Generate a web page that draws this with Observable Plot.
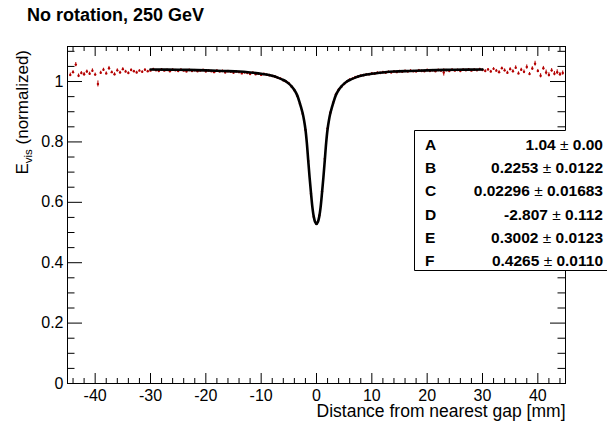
<!DOCTYPE html>
<html><head><meta charset="utf-8">
<script src="https://cdn.jsdelivr.net/npm/d3@7"></script>
<script src="https://cdn.jsdelivr.net/npm/@observablehq/plot@0.6"></script>
<style>
html,body{margin:0;padding:0;background:#fff;}
#chart{width:607px;height:425px;}
</style></head><body><div id="chart"></div>
<script>
const titleText = "No rotation, 250 GeV";
const xAxisTitle = "Distance from nearest gap [mm]";
const xMajorTicks = [-40,-30,-20,-10,0,10,20,30,40];
const xMinorTicks = [-44,-42,-38,-36,-34,-32,-28,-26,-24,-22,-18,-16,-14,-12,-8,-6,-4,-2,2,4,6,8,12,14,16,18,22,24,26,28,32,34,36,38,42,44];
const yMajorTicks = [0,0.2,0.4,0.6,0.8,1];
const yTickLabels = ["0","0.2","0.4","0.6","0.8","1"];
const yMinorTicks = [0.05,0.1,0.15,0.25,0.3,0.35,0.45,0.5,0.55,0.65,0.7,0.75,0.85,0.9,0.95,1.05,1.1];

const distMm = [
 -44.5,-44,-43.5,-43,-42.5,-42,-41.5,-41,-40.5,-40,
 -39.5,-39,-38.5,-38,-37.5,-37,-36.5,-36,-35.5,-35,
 -34.5,-34,-33.5,-33,-32.5,-32,-31.5,-31,-30.5,-30,
 -29.5,-29,-28.5,-28,-27.5,-27,-26.5,-26,-25.5,-25,
 -24.5,-24,-23.5,-23,-22.5,-22,-21.5,-21,-20.5,-20,
 -19.5,-19,-18.5,-18,-17.5,-17,-16.5,-16,-15.5,-15,
 -14.5,-14,-13.5,-13,-12.5,-12,-11.5,-11,-10.5,-10,
 -9.5,-9,-8.5,-8,-7.5,-7,-6.5,-6,-5.5,-5,
 -4.5,-4,-3.5,-3,-2.5,-2,-1.5,-1,-0.5,0,
 0.5,1,1.5,2,2.5,3,3.5,4,4.5,5,
 5.5,6,6.5,7,7.5,8,8.5,9,9.5,10,
 10.5,11,11.5,12,12.5,13,13.5,14,14.5,15,
 15.5,16,16.5,17,17.5,18,18.5,19,19.5,20,
 20.5,21,21.5,22,22.5,23,23.5,24,24.5,25,
 25.5,26,26.5,27,27.5,28,28.5,29,29.5,30,
 30.5,31,31.5,32,32.5,33,33.5,34,34.5,35,
 35.5,36,36.5,37,37.5,38,38.5,39,39.5,40,
 40.5,41,41.5,42,42.5,43,43.5,44,44.5
];
const evisValues = [
 1.022,1.031,1.056,1.019,1.028,1.024,1.033,1.026,1.036,1.023,
 0.992,1.029,1.039,1.027,1.044,1.031,1.024,1.037,1.030,1.041,
 1.033,1.028,1.038,1.034,1.030,1.036,1.032,1.039,1.034,1.036,
 1.041,1.037,1.035,1.040,1.036,1.038,1.034,1.039,1.037,1.035,
 1.039,1.036,1.033,1.038,1.035,1.037,1.034,1.036,1.038,1.033,
 1.036,1.034,1.031,1.036,1.033,1.035,1.030,1.034,1.032,1.029,
 1.033,1.031,1.027,1.030,1.028,1.025,1.029,1.024,1.026,1.022,
 1.025,1.022,1.021,1.018,1.016,1.012,1.009,1.004,1.000,0.994,
 0.983,0.971,0.953,0.926,0.893,0.840,0.737,0.628,0.552,0.530,
 0.556,0.636,0.744,0.845,0.897,0.929,0.957,0.973,0.983,0.992,
 1.000,1.006,1.009,1.014,1.016,1.019,1.021,1.023,1.024,1.027,
 1.026,1.029,1.028,1.031,1.029,1.032,1.030,1.033,1.031,1.034,
 1.032,1.035,1.033,1.036,1.034,1.033,1.037,1.035,1.034,1.038,
 1.035,1.037,1.034,1.038,1.036,1.030,1.037,1.035,1.039,1.036,
 1.038,1.035,1.039,1.037,1.040,1.036,1.039,1.037,1.041,1.038,
 1.035,1.040,1.033,1.042,1.036,1.031,1.044,1.037,1.029,1.041,
 1.034,1.046,1.027,1.039,1.032,1.048,1.025,1.043,1.059,1.035,
 1.019,1.044,1.030,1.022,1.037,1.026,1.031,1.024,1.028
];
const evisErrors = [
 .006,.005,.007,.006,.005,.006,.005,.005,.006,.005,
 .010,.005,.005,.005,.006,.004,.005,.005,.004,.005,
 .004,.004,.004,.003,.004,.003,.004,.003,.003,.003,
 .003,.003,.003,.003,.003,.003,.003,.003,.003,.003,
 .003,.003,.003,.003,.003,.003,.003,.003,.003,.003,
 .003,.003,.003,.003,.003,.003,.003,.003,.003,.003,
 .003,.003,.003,.003,.003,.003,.003,.003,.003,.003,
 .003,.003,.003,.003,.003,.003,.003,.003,.003,.003,
 .003,.003,.004,.004,.004,.004,.004,.004,.004,.004,
 .004,.004,.004,.004,.004,.004,.004,.003,.003,.003,
 .003,.003,.003,.003,.003,.003,.003,.003,.003,.003,
 .003,.003,.003,.003,.003,.003,.003,.003,.003,.003,
 .003,.003,.003,.003,.003,.003,.003,.003,.003,.003,
 .003,.003,.003,.003,.003,.012,.003,.003,.003,.003,
 .003,.003,.003,.003,.003,.003,.003,.003,.003,.003,
 .004,.003,.004,.004,.004,.005,.004,.005,.005,.005,
 .005,.006,.005,.005,.006,.007,.005,.006,.008,.005,
 .007,.006,.008,.007,.006,.007,.008,.006,.007
];

const fitX = [-30,-25,-20,-17,-14,-12,-10,-9,-8,-7,-6,-5.5,-5,-4.5,-4,-3.5,-3,-2.75,-2.5,-2.25,-2,-1.75,-1.5,-1.25,-1,-0.75,-0.5,-0.25,0,0.25,0.5,0.75,1,1.25,1.5,1.75,2,2.25,2.5,2.75,3,3.5,4,4.5,5,5.5,6,7,8,9,10,12,14,17,20,25,30];
const fitY = [1.040,1.039,1.037,1.035,1.033,1.030,1.026,1.023,1.019,1.013,1.005,1.000,0.993,0.984,0.972,0.955,0.928,0.912,0.895,0.872,0.842,0.798,0.740,0.683,0.632,0.585,0.553,0.535,0.528,0.535,0.553,0.585,0.632,0.683,0.740,0.798,0.842,0.872,0.895,0.912,0.928,0.955,0.972,0.984,0.993,1.000,1.005,1.013,1.019,1.023,1.026,1.030,1.033,1.035,1.037,1.039,1.040];

const paramNames = ["A","B","C","D","E","F"];
const paramValues = ["1.04","0.2253","0.02296","-2.807","0.3002","0.4265"];
const paramErrors = ["0.00","0.0122","0.01683","0.112","0.0123","0.0110"];

const points = distMm.map((x, i) => ({x, y: evisValues[i], e: evisErrors[i]}));
const fit = fitX.map((x, i) => ({x, y: fitY[i]}));

const W = 607, H = 425, mL = 67, mR = 42, mT = 46, mB = 42;
const fw = W - mL - mR, fh = H - mT - mB;
const font = "'Liberation Sans', Arial, Helvetica, sans-serif";
const red = "#b40000";

const plot = Plot.plot({
  width: W, height: H,
  marginLeft: mL, marginRight: mR, marginTop: mT, marginBottom: mB,
  x: {domain: [-45, 45], axis: null},
  y: {domain: [0, 1.116], axis: null},
  style: {fontFamily: font, background: "white", color: "black"},
  marks: [
    Plot.ruleX(points, {x: "x", y1: d => d.y - d.e, y2: d => d.y + d.e, stroke: red, strokeWidth: 1}),
    Plot.dot(points, {x: "x", y: "y", r: 1.2, fill: red, stroke: null}),
    Plot.line(fit, {x: "x", y: "y", stroke: "black", strokeWidth: 2.6, curve: "catmull-rom"}),
    Plot.ruleX(xMajorTicks, {x: d => d, insetTop: fh - 10, stroke: "black"}),
    Plot.ruleX(xMajorTicks, {x: d => d, insetBottom: fh - 10, stroke: "black"}),
    Plot.ruleX(xMinorTicks, {x: d => d, insetTop: fh - 5, stroke: "black"}),
    Plot.ruleX(xMinorTicks, {x: d => d, insetBottom: fh - 5, stroke: "black"}),
    Plot.ruleY(yMajorTicks, {y: d => d, insetRight: fw - 15, stroke: "black"}),
    Plot.ruleY(yMajorTicks, {y: d => d, insetLeft: fw - 15, stroke: "black"}),
    Plot.ruleY(yMinorTicks, {y: d => d, insetRight: fw - 7.5, stroke: "black"}),
    Plot.ruleY(yMinorTicks, {y: d => d, insetLeft: fw - 7.5, stroke: "black"}),
    Plot.frame({stroke: "black", strokeWidth: 1}),
    Plot.text(xMajorTicks, {x: d => d, frameAnchor: "bottom", dy: 17.5, text: d => String(d), fontSize: 16, fill: "black"}),
    Plot.text(yMajorTicks, {y: d => d, frameAnchor: "left", dx: -4, textAnchor: "end", text: (d, i) => yTickLabels[i], fontSize: 16, fill: "black"}),
    Plot.text([xAxisTitle], {frameAnchor: "bottom-right", dy: 33, textAnchor: "end", text: d => d, fontSize: 17.5, fill: "black"})
  ]
});

const svg = d3.select(plot);
// title
svg.append("text").attr("x", 27).attr("y", 20.5).attr("text-anchor", "start")
  .attr("font-family", font).attr("font-size", 18).attr("font-weight", "bold").attr("fill", "black")
  .text(titleText);
// y axis title
const yt = svg.append("text").attr("transform", "translate(28,50) rotate(-90)")
  .attr("text-anchor", "end").attr("font-family", font).attr("font-size", 17).attr("fill", "black");
yt.append("tspan").text("E");
yt.append("tspan").attr("dy", 4).attr("font-size", 11.5).text("vis");
yt.append("tspan").attr("dy", -4).text(" (normalized)");

// stats box
const bx = 414.5, by = 130.5, bb = 270.5, rowH = 23.3, row0 = 144.3;
const g = svg.append("g");
g.append("rect").attr("x", bx).attr("y", by).attr("width", W - bx + 5).attr("height", bb - by).attr("fill", "white");
g.append("line").attr("x1", bx).attr("x2", W - mR + 0.5).attr("y1", by).attr("y2", by).attr("stroke", "black");
g.append("line").attr("x1", bx).attr("x2", W).attr("y1", bb).attr("y2", bb).attr("stroke", "black");
g.append("line").attr("x1", bx).attr("x2", bx).attr("y1", by).attr("y2", bb).attr("stroke", "black");
paramNames.forEach((n, i) => {
  const yb = row0 + i * rowH + 5.5;
  g.append("text").attr("x", 425).attr("y", yb).attr("text-anchor", "start").attr("font-family", font).attr("font-size", 15.5)
    .attr("font-weight", "bold").attr("fill", "black").text(n);
  const t = g.append("text").attr("x", 603).attr("y", yb).attr("text-anchor", "end")
    .attr("font-family", font).attr("font-size", 15.5).attr("font-weight", "bold").attr("fill", "black");
  t.append("tspan").text(paramValues[i] + " ");
  t.append("tspan").attr("font-weight", "normal").text("\u00b1");
  t.append("tspan").text(" " + paramErrors[i]);
});

document.getElementById("chart").appendChild(plot);
</script>
</body></html>
